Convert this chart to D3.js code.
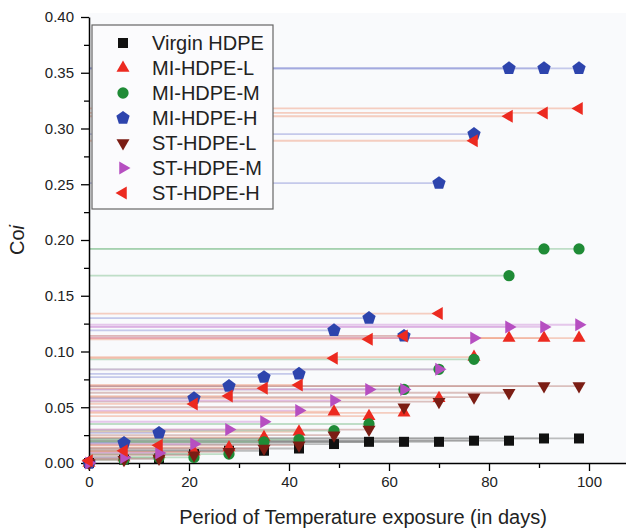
<!DOCTYPE html>
<html>
<head>
<meta charset="utf-8">
<script src="https://cdn.jsdelivr.net/npm/d3@7"></script>
<style>
  body { margin: 0; background: #fff; }
  svg { display: block; font-family: 'Liberation Sans', Arial, sans-serif; }
</style>
</head>
<body>
<div id="chart"></div>
<script>
// exposure days (weekly)
const days = [0, 7, 14, 21, 28, 35, 42, 49, 56, 63, 70, 77, 84, 91, 98];

const seriesNames = ['Virgin HDPE', 'MI-HDPE-L', 'MI-HDPE-M', 'MI-HDPE-H', 'ST-HDPE-L', 'ST-HDPE-M', 'ST-HDPE-H'];
const seriesColors = ['#111111', '#ec2a20', '#1f8b36', '#2d44ad', '#7b1d14', '#b64fc1', '#ec2a20'];
const seriesLineColors = ['#8a8a8a', '#f3a88e', '#8fc79a', '#9aa0dc', '#c2908a', '#d59ddc', '#f3a88e'];
const seriesShapes = ['square', 'triUp', 'circle', 'pentagon', 'triDown', 'triRight', 'triLeft'];

// Coi values
const virginHdpe = [0.000, 0.003, 0.004, 0.008, 0.011, 0.011, 0.013, 0.017, 0.019, 0.019, 0.019, 0.020, 0.020, 0.022, 0.022];
const miHdpeL    = [0.000, 0.005, 0.008, 0.010, 0.014, 0.023, 0.028, 0.046, 0.042, 0.045, 0.058, 0.095, 0.112, 0.112, 0.112];
const miHdpeM    = [0.000, 0.003, 0.005, 0.005, 0.008, 0.019, 0.021, 0.029, 0.035, 0.066, 0.084, 0.093, 0.168, 0.192, 0.192];
const miHdpeH    = [0.000, 0.018, 0.027, 0.058, 0.069, 0.077, 0.080, 0.119, 0.130, 0.114, 0.251, 0.295, 0.354, 0.354, 0.354];
const stHdpeL    = [0.000, 0.003, 0.004, 0.007, 0.010, 0.013, 0.016, 0.025, 0.030, 0.050, 0.055, 0.059, 0.063, 0.069, 0.069];
const stHdpeM    = [0.000, 0.005, 0.009, 0.017, 0.030, 0.037, 0.047, 0.056, 0.066, 0.066, 0.084, 0.112, 0.122, 0.122, 0.124];
const stHdpeH    = [0.002, 0.011, 0.016, 0.053, 0.060, 0.067, 0.070, 0.094, 0.111, 0.114, 0.134, 0.289, 0.311, 0.314, 0.318];

const seriesValues = [virginHdpe, miHdpeL, miHdpeM, miHdpeH, stHdpeL, stHdpeM, stHdpeH];

const yTicks = [0, 0.05, 0.10, 0.15, 0.20, 0.25, 0.30, 0.35, 0.40];
const xTicks = [0, 20, 40, 60, 80, 100];

const width = 626;
const height = 530;
const marginLeft = 89;
const marginTop = 17;
const marginBottom = 67;

const series = seriesNames.map((name, i) => ({
  name,
  color: seriesColors[i],
  lineColor: seriesLineColors[i],
  shape: seriesShapes[i],
  points: days.map((d, j) => ({ day: d, value: seriesValues[i][j] })),
}));

const xScale = d3.scaleLinear([0, 107.4], [marginLeft, width]);
const yScale = d3.scaleLinear([0, 0.4], [height - marginBottom, marginTop]);

const isMajorY = (d) => yTicks.some((t) => Math.abs(t - d) < 1e-6);
const isMajorX = (d) => xTicks.indexOf(d) >= 0;

function polygon(n, r, rot) {
  const pts = [];
  for (let k = 0; k < n; k += 1) {
    const a = rot + (k * 2 * Math.PI) / n;
    pts.push([r * Math.cos(a), r * Math.sin(a)]);
  }
  return 'M' + pts.map((p) => p.join(',')).join('L') + 'Z';
}

const shapePath = {
  square: 'M-5,-5L5,-5L5,5L-5,5Z',
  circle: d3.symbol(d3.symbolCircle, 100)(),
  pentagon: polygon(5, 7, -Math.PI / 2),
  triUp: polygon(3, 7.5, -Math.PI / 2),
  triDown: polygon(3, 7.5, Math.PI / 2),
  triRight: polygon(3, 7.5, 0),
  triLeft: polygon(3, 7.5, Math.PI),
};

const svg = d3
  .select('#chart')
  .append('svg')
  .attr('width', width)
  .attr('height', height)
  .attr('viewBox', [0, 0, width, height]);

// light plot background
svg
  .append('rect')
  .attr('x', marginLeft)
  .attr('y', marginTop - 4)
  .attr('width', width - marginLeft)
  .attr('height', height - marginBottom - marginTop + 4)
  .attr('fill', '#f9fafc');

// horizontal drop lines from y axis to each point
const lines = svg.append('g').attr('class', 'droplines');
series.forEach((s) => {
  lines
    .selectAll(null)
    .data(s.points)
    .join('line')
    .attr('x1', xScale(0))
    .attr('x2', (d) => xScale(d.day))
    .attr('y1', (d) => yScale(d.value))
    .attr('y2', (d) => yScale(d.value))
    .attr('stroke', s.lineColor)
    .attr('stroke-opacity', 0.55)
    .attr('stroke-width', 1.8);
});

// axes
const gx = svg
  .append('g')
  .attr('transform', `translate(0,${height - marginBottom})`)
  .call(
    d3.axisBottom(xScale)
      .tickValues(d3.range(0, 101, 10))
      .tickSizeOuter(0)
      .tickPadding(4)
      .tickFormat((d) => (isMajorX(d) ? d : '')),
  );
gx.selectAll('.tick line')
  .attr('y2', (d) => (isMajorX(d) ? 8 : 5))
  .attr('stroke-width', 1.3);
gx.select('.domain').attr('stroke-width', 1.5);
gx.selectAll('.tick text')
  .attr('font-size', 15)
  .attr('font-family', 'Liberation Sans, Arial, sans-serif')
  .attr('fill', '#222')
  .attr('dy', '0.95em');

const gy = svg
  .append('g')
  .attr('transform', `translate(${marginLeft},0)`)
  .call(
    d3.axisLeft(yScale)
      .tickValues(d3.range(0, 0.4001, 0.025))
      .tickSizeOuter(0)
      .tickPadding(4)
      .tickFormat((d) => (isMajorY(d) ? d3.format('.2f')(d) : '')),
  );
gy.selectAll('.tick line')
  .attr('x2', (d) => (isMajorY(d) ? -8 : -5))
  .attr('stroke-width', 1.3);
gy.select('.domain').attr('stroke-width', 1.5);
gy.selectAll('.tick text')
  .attr('font-size', 15)
  .attr('font-family', 'Liberation Sans, Arial, sans-serif')
  .attr('fill', '#222')
  .attr('x', -15);

// markers
series.forEach((s) => {
  svg
    .append('g')
    .selectAll('path')
    .data(s.points)
    .join('path')
    .attr('d', shapePath[s.shape])
    .attr('transform', (d) => `translate(${xScale(d.day)},${yScale(d.value)})`)
    .attr('fill', s.color);
});

// axis titles
svg
  .append('text')
  .attr('x', 363)
  .attr('y', 524)
  .attr('text-anchor', 'middle')
  .attr('font-size', 20)
  .attr('fill', '#222')
  .text('Period of Temperature exposure (in days)');

const yTitle = svg
  .append('text')
  .attr('transform', 'translate(24,240) rotate(-90)')
  .attr('text-anchor', 'middle')
  .attr('font-size', 20)
  .attr('fill', '#222');
yTitle.append('tspan').text('Co');
yTitle.append('tspan').attr('font-style', 'italic').text('i');

// legend
const legend = svg.append('g').attr('transform', 'translate(92,25)');
legend
  .append('rect')
  .attr('width', 181)
  .attr('height', 184)
  .attr('fill', '#fbfbfd')
  .attr('stroke', '#666')
  .attr('stroke-width', 1.2);

const items = legend
  .selectAll('g.item')
  .data(series)
  .join('g')
  .attr('class', 'item')
  .attr('transform', (d, i) => `translate(0,${18 + i * 25})`);

items
  .append('path')
  .attr('d', (d) => shapePath[d.shape])
  .attr('transform', 'translate(31,0)')
  .attr('fill', (d) => d.color);

items
  .append('text')
  .attr('x', 60)
  .attr('dy', '0.36em')
  .attr('font-size', 20)
  .attr('fill', '#222')
  .text((d) => d.name);
</script>
</body>
</html>
